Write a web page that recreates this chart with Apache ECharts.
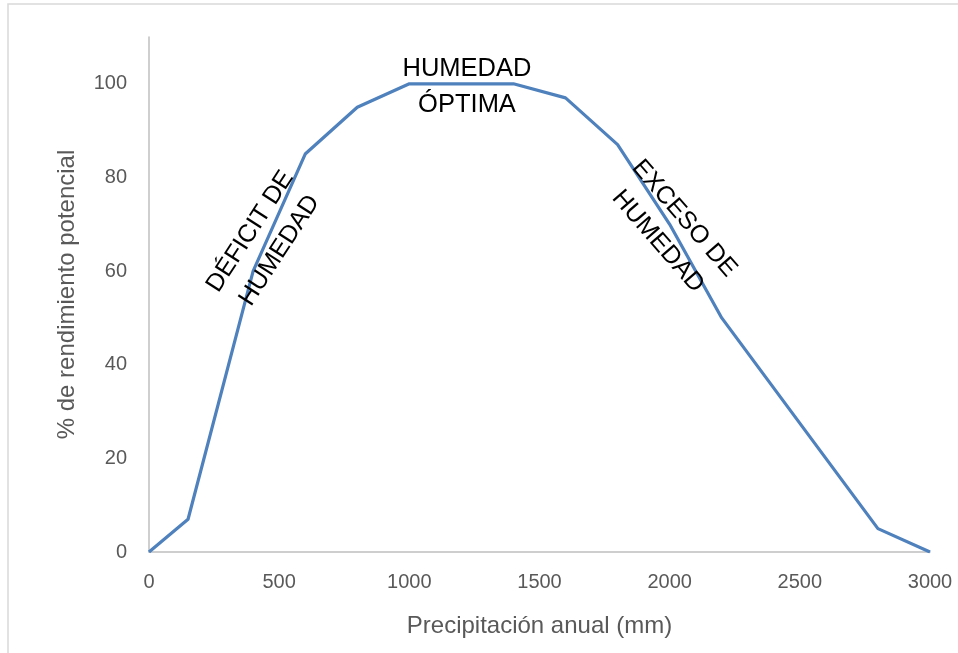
<!DOCTYPE html>
<html>
<head>
<meta charset="utf-8">
<script src="https://cdn.jsdelivr.net/npm/echarts@6/dist/echarts.min.js"></script>
<style>
  html, body { margin: 0; padding: 0; background: #fff; }
  #chart { width: 958px; height: 653px; }
</style>
</head>
<body>
<div id="chart"></div>
<script>
  // datos
  var precipitacion = [0, 150, 400, 600, 800, 1000, 1400, 1600, 1800, 2000, 2200, 2800, 3000]
  var rendimiento = [0, 7, 60, 85, 95, 100, 100, 97, 87, 70, 50, 5, 0]
  var xTicks = [0, 500, 1000, 1500, 2000, 2500, 3000]
  var yTicks = [0, 20, 40, 60, 80, 100]

  var font = 'Liberation Sans'
  var chart = echarts.init(document.getElementById('chart'))

  chart.setOption({
    animation: false,
    grid: {
      left: 149,
      right: 28,
      top: 37,
      bottom: 101
    },
    xAxis: {
      type: 'value',
      min: 0,
      max: 3000,
      interval: 500,
      name: 'Precipitación anual (mm)',
      nameLocation: 'middle',
      nameGap: 62,
      nameTextStyle: { color: '#595959', fontSize: 24, fontFamily: font },
      axisLine: { show: true, lineStyle: { color: '#bfbfbf', width: 1.5 } },
      axisTick: { show: false },
      splitLine: { show: false },
      axisLabel: {
        color: '#595959',
        fontSize: 20,
        fontFamily: font,
        margin: 20,
        formatter: function (v) { return xTicks.indexOf(v) >= 0 ? String(v) : '' }
      }
    },
    yAxis: {
      type: 'value',
      min: 0,
      max: 110,
      interval: 20,
      name: '% de rendimiento potencial',
      nameLocation: 'middle',
      nameGap: 70,
      nameRotate: 90,
      nameTextStyle: { color: '#595959', fontSize: 24, fontFamily: font },
      axisLine: { show: true, lineStyle: { color: '#bfbfbf', width: 1.5 } },
      axisTick: { show: false },
      splitLine: { show: false },
      axisLabel: {
        color: '#595959',
        fontSize: 20,
        fontFamily: font,
        margin: 22,
        formatter: function (v) { return yTicks.indexOf(v) >= 0 ? String(v) : '' }
      }
    },
    series: [{
      type: 'line',
      data: precipitacion.map(function (p, i) { return [p, rendimiento[i]] }),
      showSymbol: false,
      symbol: 'none',
      lineStyle: { color: '#4f81bd', width: 3.2 },
      z: 2
    }],
    graphic: [
      {
        type: 'rect',
        shape: { x: 8, y: 4, width: 980, height: 700 },
        style: { fill: 'none', stroke: '#d9d9d9', lineWidth: 1.5 },
        silent: true,
        z: -1
      },
      {
        type: 'text',
        x: 467,
        y: 87,
        style: {
          text: 'HUMEDAD\nÓPTIMA',
          fill: '#000',
          font: '25.5px "Liberation Sans"',
          align: 'center',
          verticalAlign: 'middle',
          lineHeight: 36
        },
        z: 10
      },
      {
        type: 'text',
        x: 265,
        y: 241,
        rotation: 57 * Math.PI / 180,
        style: {
          text: 'DÉFICIT DE\nHUMEDAD',
          fill: '#000',
          font: '25px "Liberation Sans"',
          align: 'center',
          verticalAlign: 'middle',
          lineHeight: 35
        },
        z: 10
      },
      {
        type: 'text',
        x: 671,
        y: 230,
        rotation: -49 * Math.PI / 180,
        style: {
          text: 'EXCESO DE\nHUMEDAD',
          fill: '#000',
          font: '25px "Liberation Sans"',
          align: 'center',
          verticalAlign: 'middle',
          lineHeight: 35
        },
        z: 10
      }
    ]
  })
</script>
</body>
</html>
